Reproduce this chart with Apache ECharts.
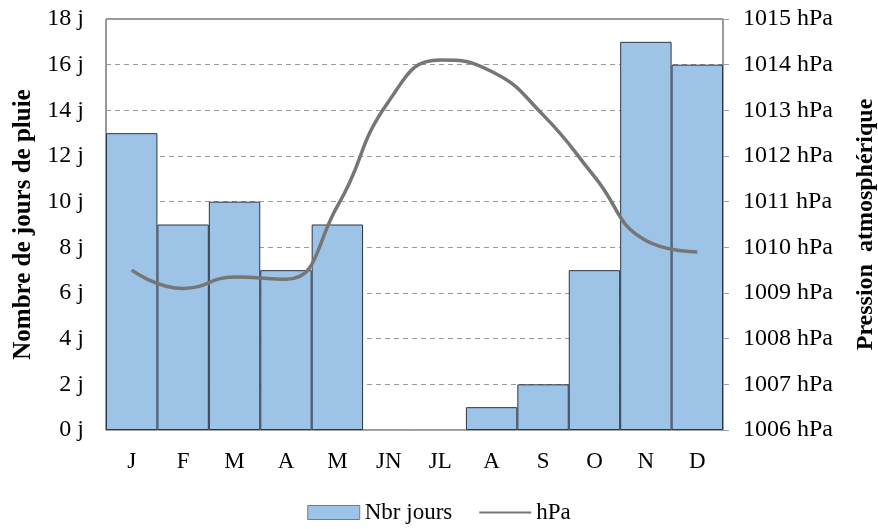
<!DOCTYPE html>
<html><head><meta charset="utf-8">
<script src="https://cdn.jsdelivr.net/npm/echarts@6/dist/echarts.min.js"></script>
<style>html,body{margin:0;padding:0;background:#fff}#c{width:878px;height:529px}</style>
</head><body><div id="c"></div>
<script>
const months = ['J','F','M','A','M','JN','JL','A','S','O','N','D'];
const rainDays = [13,9,10,7,9,0,0,1,2,7,17,16];
const pressure = [1009.5,1009.1,1009.35,1009.3,1010.9,1013.2,1014.1,1013.85,1012.9,1011.55,1010.15,1009.9];
const FONT = 'Liberation Serif';
const chart = echarts.init(document.getElementById('c'));
chart.setOption({
  animation:false,
  textStyle:{fontFamily:FONT},
  grid:{left:106,right:155,top:19,bottom:99,show:true,borderColor:'#333',borderWidth:1,
        containLabel:false,outerBoundsMode:'none'},
  legend:{bottom:0,left:'center',itemGap:26,
    textStyle:{fontFamily:FONT,fontSize:23,color:'#000'},
    data:[{name:'Nbr jours',icon:'rect',itemStyle:{borderColor:'#6b7d95',borderWidth:1}},
          {name:'hPa',itemStyle:{opacity:0}}],
    itemWidth:52,itemHeight:14},
  xAxis:{type:'category',data:months,
    axisLine:{lineStyle:{color:'#a6a6a6',width:1}},axisTick:{show:false},
    axisLabel:{fontFamily:FONT,fontSize:23,color:'#000',margin:20}},
  yAxis:[
    {type:'value',min:0,max:18,interval:2,position:'left',
     name:'Nombre de jours de pluie',nameLocation:'middle',nameGap:62,
     nameTextStyle:{fontFamily:FONT,fontSize:25,fontWeight:'bold',color:'#000'},
     axisLine:{show:false},axisTick:{show:false},
     axisLabel:{formatter:v=>v+' j',fontFamily:FONT,fontSize:24,color:'#000',margin:22},
     splitLine:{lineStyle:{color:'#9a9a9a',type:[5,4],width:1}}},
    {type:'value',min:1006,max:1015,interval:1,position:'right',
     name:'Pression  atmosphérique',nameLocation:'middle',nameGap:131,nameRotate:90,
     nameTextStyle:{fontFamily:FONT,fontSize:24,fontWeight:'bold',color:'#000'},
     axisLine:{show:true,lineStyle:{color:'#8fa0b8',width:1}},
     axisTick:{show:true,length:6,inside:false,lineStyle:{color:'#8fa0b8'}},
     axisLabel:{formatter:v=>String(v)+' hPa',fontFamily:FONT,fontSize:24,color:'#000',margin:20},
     splitLine:{show:false}}
  ],
  series:[
    {name:'Nbr jours',type:'bar',data:rainDays.map(v=>v===0?'-':v),yAxisIndex:0,barCategoryGap:'0%',
     itemStyle:{color:'#9dc3e6',borderColor:'#2b3648',borderWidth:1}},
    {name:'hPa',type:'line',data:pressure,yAxisIndex:1,smooth:true,showSymbol:false,symbol:'none',
     lineStyle:{color:'#767676',width:3.5},itemStyle:{color:'#767676'},z:5}
  ]
});
</script></body></html>
